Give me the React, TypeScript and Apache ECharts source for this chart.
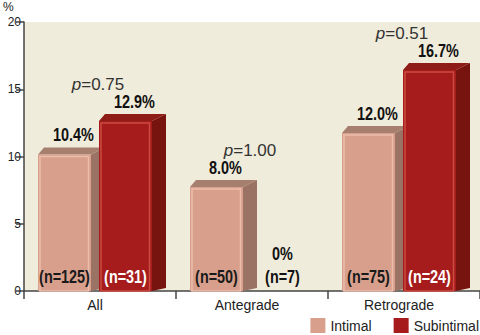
import React, { useEffect, useRef } from "react";
import * as echarts from "echarts";

const categories = ["All", "Antegrade", "Retrograde"];
const intimalValues = [10.4, 8.0, 12.0];
const subintimalValues = [12.9, 0, 16.7];
const intimalN = [125, 50, 75];
const subintimalN = [31, 7, 24];
const pValues = ["0.75", "1.00", "0.51"];
const yMin = 0;
const yMax = 20;
const yInterval = 5;

const BOLD_FONT = "'Liberation Sans', Arial, sans-serif";
const REG_FONT = "'Liberation Sans', Arial, sans-serif";

const styles = [
  { name: "Intimal", off: -62, front: "#d8a08c", light: "#ebbcaa", side: "#9b7364", top: "#a77f6f", nColor: "#1a1a1a" },
  { name: "Subintimal", off: -1, front: "#a61c1c", light: "#cc4b40", side: "#781410", top: "#8e1c17", nColor: "#ffffff" },
];

function boldText(x: number, y: number, text: string, fill: string, vAlign: string, size: number, sx: number) {
  return {
    type: "text",
    x,
    y,
    scaleX: sx,
    style: {
      x: 0,
      y: 0,
      text,
      align: "center",
      verticalAlign: vAlign,
      fontFamily: BOLD_FONT,
      fontWeight: "bold",
      fontSize: size,
      fill,
    },
  };
}

function makeRender(cfg: any) {
  return (params: any, api: any) => {
    const idx = api.value(0);
    const v = api.value(1);
    const n = api.value(2);
    const top = api.coord([idx, v]);
    const base = api.coord([idx, 0]);
    const W = 53, DX = 14, DY = 7;
    const x0 = top[0] + cfg.off;
    const yBase = base[1];
    const children: any[] = [];
    if (v > 0) {
      const yF = top[1] + 3.5;
      const yB = yF - DY;
      children.push({
        type: "polygon",
        shape: { points: [[x0 + W, yF], [x0 + W + DX, yB], [x0 + W + DX, yBase - 3], [x0 + W, yBase]] },
        style: { fill: cfg.side },
      });
      children.push({
        type: "polygon",
        shape: { points: [[x0, yF], [x0 + W, yF], [x0 + W + DX, yB], [x0 + 6, yB]] },
        style: { fill: cfg.top },
      });
      children.push({
        type: "rect",
        shape: { x: x0, y: yF, width: W, height: yBase - yF },
        style: { fill: cfg.front },
      });
      children.push({
        type: "rect",
        shape: { x: x0 + 2, y: yF + 2, width: W - 4.5, height: yBase - yF - 2 },
        style: { fill: "none", stroke: cfg.light, lineWidth: 1.5 },
      });
      children.push(boldText(x0 + (W + DX) / 2 + 2, yB - 3, v.toFixed(1) + "%", "#111", "bottom", 19, 0.76));
      children.push(boldText(x0 + W / 2, yBase - 15, "(n=" + n + ")", cfg.nColor, "middle", 18, 0.8));
    } else {
      children.push(boldText(x0 + W / 2 + 5, yBase - 37, "0%", "#111", "middle", 19, 0.76));
      children.push(boldText(x0 + W / 2 + 5, yBase - 15, "(n=" + n + ")", "#111", "middle", 18, 0.8));
    }
    return { type: "group", children };
  };
}

function renderP(params: any, api: any) {
  const idx = api.value(0);
  const v = api.value(1);
  const pt = api.coord([idx, v]);
  return {
    type: "text",
    style: {
      x: pt[0] - 2,
      y: pt[1] - 33,
      text: "{i|p}=" + pValues[params.dataIndex],
      align: "center",
      verticalAlign: "middle",
      fontFamily: REG_FONT,
      fontSize: 17,
      fill: "#333",
      rich: {
        i: { fontStyle: "italic", fontFamily: REG_FONT, fontSize: 17, fill: "#333" },
      },
    },
  };
}

export default function App() {
  const ref = useRef<HTMLDivElement>(null);
  useEffect(() => {
    if (!ref.current) return;
    const chart = echarts.init(ref.current, undefined, { renderer: "svg" });
    const valuesList = [intimalValues, subintimalValues];
    const nList = [intimalN, subintimalN];
    chart.setOption({
      animation: false,
      grid: {
        left: 24,
        right: 0,
        top: 22,
        bottom: 44,
        show: true,
        backgroundColor: "#f0ecdb",
        borderWidth: 0,
      },
      legend: {
        right: 1,
        top: 318,
        padding: 0,
        icon: "rect",
        itemWidth: 15,
        itemHeight: 15,
        itemGap: 22,
        textStyle: { fontFamily: REG_FONT, fontSize: 14, color: "#222" },
        data: styles.map((s) => ({ name: s.name, itemStyle: { color: s.front } })),
      },
      graphic: [
        {
          type: "text",
          left: 3,
          top: 1,
          style: { text: "%", fontFamily: REG_FONT, fontSize: 12, fill: "#222" },
        },
      ],
      xAxis: {
        type: "category",
        data: categories,
        axisLine: { lineStyle: { color: "#444", width: 1.5 } },
        axisTick: { show: true, length: 8, lineStyle: { color: "#444", width: 1.5 } },
        axisLabel: { fontFamily: REG_FONT, fontSize: 14, color: "#222", margin: 7, padding: [0, 10, 0, 0] },
      },
      yAxis: {
        type: "value",
        min: yMin,
        max: yMax,
        interval: yInterval,
        axisLine: { show: true, lineStyle: { color: "#444", width: 1.5 } },
        axisTick: { show: true, length: 8, lineStyle: { color: "#444", width: 1.5 } },
        splitLine: { show: false },
        axisLabel: { fontFamily: REG_FONT, fontSize: 12, color: "#222", margin: 3 },
      },
      series: [
        ...styles.map((s, k) => ({
          type: "custom",
          name: s.name,
          clip: false,
          itemStyle: { color: s.front },
          encode: { x: 0, y: 1 },
          data: categories.map((_, i) => [i, valuesList[k][i], nList[k][i]]),
          renderItem: makeRender(s),
        })),
        {
          type: "custom",
          name: "p",
          clip: false,
          encode: { x: 0, y: 1 },
          data: categories.map((_, i) => [i, Math.max(intimalValues[i], subintimalValues[i])]),
          renderItem: renderP,
        },
      ],
    });
    return () => chart.dispose();
  }, []);
  return <div ref={ref} style={{ width: 480, height: 335, position: "absolute", left: 0, top: 0 }} />;
}
